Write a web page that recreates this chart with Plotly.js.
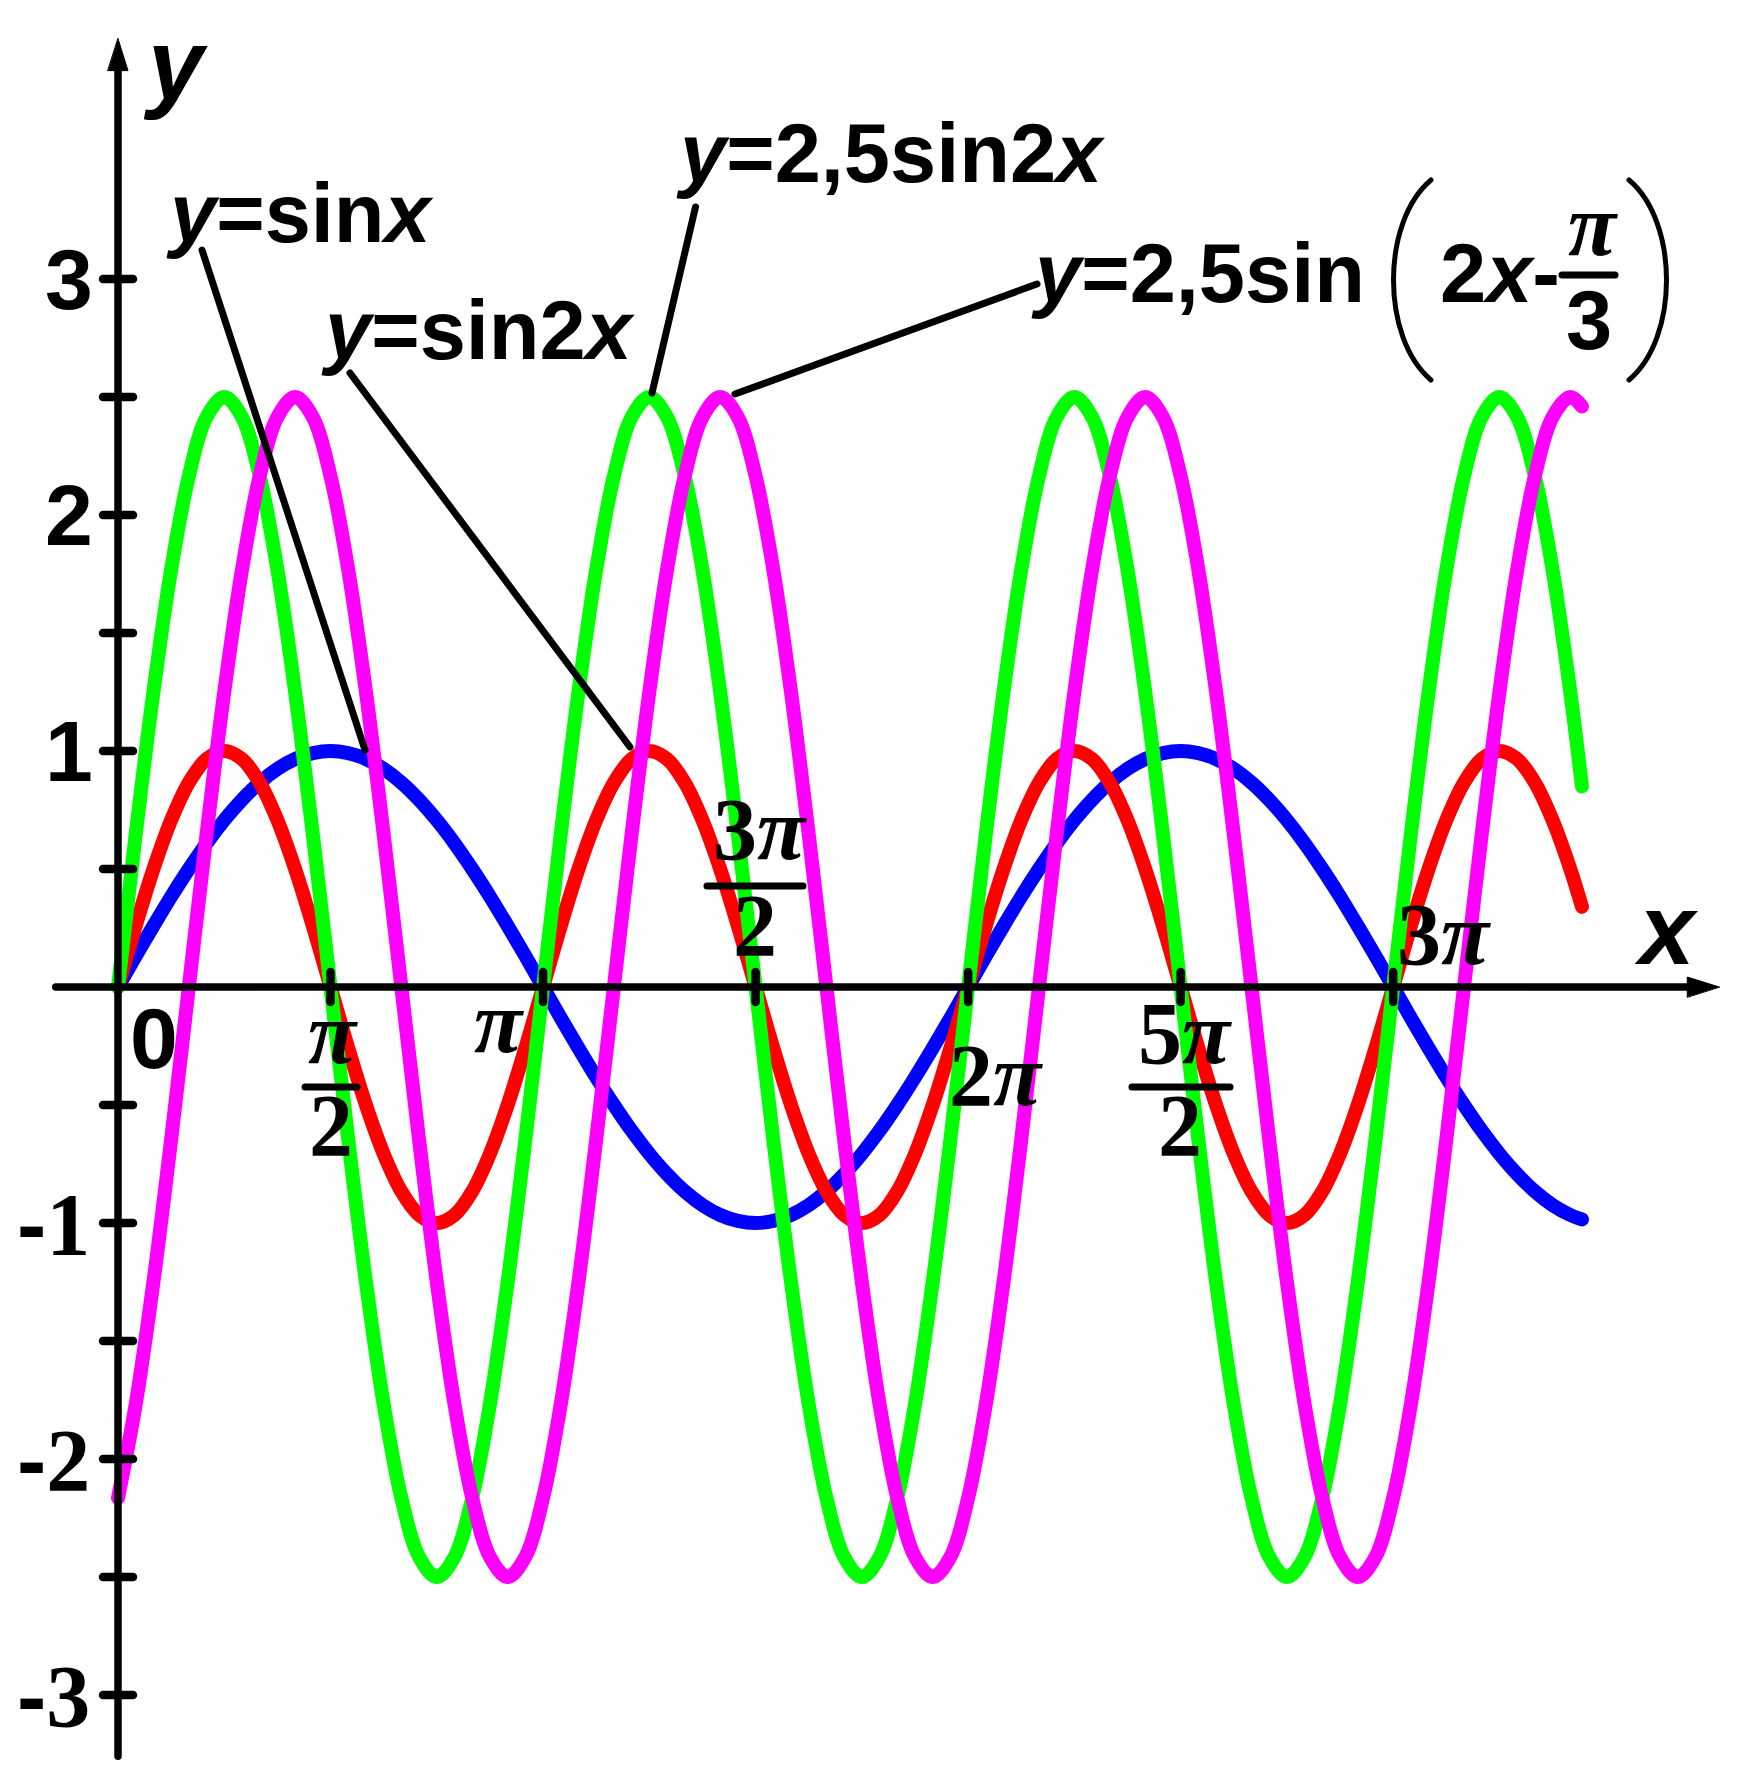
<!DOCTYPE html>
<html>
<head>
<meta charset="utf-8">
<script src="https://cdn.plot.ly/plotly-3.0.1.min.js"></script>
<style>
html,body{margin:0;padding:0;background:#fff;}
#chart{width:1753px;height:1787px;}
.scatterlayer .js-line{stroke-linecap:round;stroke-linejoin:round;}
.shapelayer path{stroke-linecap:round;}
</style>
</head>
<body>
<div id="chart"></div>
<script>
// ---------------- data ----------------
const xValues = [0, 0.1309, 0.2618, 0.3927, 0.5236, 0.6545, 0.7854, 0.9163, 1.0472, 1.1781, 1.309, 1.4399,
  1.5708, 1.7017, 1.8326, 1.9635, 2.0944, 2.2253, 2.3562, 2.4871, 2.618, 2.7489, 2.8798, 3.0107,
  3.1416, 3.2725, 3.4034, 3.5343, 3.6652, 3.7961, 3.927, 4.0579, 4.1888, 4.3197, 4.4506, 4.5815,
  4.7124, 4.8433, 4.9742, 5.1051, 5.236, 5.3669, 5.4978, 5.6287, 5.7596, 5.8905, 6.0214, 6.1523,
  6.2832, 6.4141, 6.545, 6.6759, 6.8068, 6.9377, 7.0686, 7.1995, 7.3304, 7.4613, 7.5922, 7.7231,
  7.854, 7.9849, 8.1158, 8.2467, 8.3776, 8.5085, 8.6394, 8.7703, 8.9012, 9.0321, 9.163, 9.2939,
  9.4248, 9.5557, 9.6866, 9.8175, 9.9484, 10.0793, 10.2102, 10.3411, 10.472, 10.6029, 10.7338, 10.82];

const ySinX = [0, 0.131, 0.259, 0.383, 0.5, 0.609, 0.707, 0.793, 0.866, 0.924, 0.966, 0.991,
  1, 0.991, 0.966, 0.924, 0.866, 0.793, 0.707, 0.609, 0.5, 0.383, 0.259, 0.131,
  0, -0.131, -0.259, -0.383, -0.5, -0.609, -0.707, -0.793, -0.866, -0.924, -0.966, -0.991,
  -1, -0.991, -0.966, -0.924, -0.866, -0.793, -0.707, -0.609, -0.5, -0.383, -0.259, -0.131,
  0, 0.131, 0.259, 0.383, 0.5, 0.609, 0.707, 0.793, 0.866, 0.924, 0.966, 0.991,
  1, 0.991, 0.966, 0.924, 0.866, 0.793, 0.707, 0.609, 0.5, 0.383, 0.259, 0.131,
  0, -0.131, -0.259, -0.383, -0.5, -0.609, -0.707, -0.793, -0.866, -0.924, -0.966, -0.985];

const ySin2X = [0, 0.259, 0.5, 0.707, 0.866, 0.966, 1, 0.966, 0.866, 0.707, 0.5, 0.259,
  0, -0.259, -0.5, -0.707, -0.866, -0.966, -1, -0.966, -0.866, -0.707, -0.5, -0.259,
  0, 0.259, 0.5, 0.707, 0.866, 0.966, 1, 0.966, 0.866, 0.707, 0.5, 0.259,
  0, -0.259, -0.5, -0.707, -0.866, -0.966, -1, -0.966, -0.866, -0.707, -0.5, -0.259,
  0, 0.259, 0.5, 0.707, 0.866, 0.966, 1, 0.966, 0.866, 0.707, 0.5, 0.259,
  0, -0.259, -0.5, -0.707, -0.866, -0.966, -1, -0.966, -0.866, -0.707, -0.5, -0.259,
  0, 0.259, 0.5, 0.707, 0.866, 0.966, 1, 0.966, 0.866, 0.707, 0.5, 0.34];

const y25Sin2X = [0, 0.647, 1.25, 1.768, 2.165, 2.415, 2.5, 2.415, 2.165, 1.768, 1.25, 0.647,
  0, -0.647, -1.25, -1.768, -2.165, -2.415, -2.5, -2.415, -2.165, -1.768, -1.25, -0.647,
  0, 0.647, 1.25, 1.768, 2.165, 2.415, 2.5, 2.415, 2.165, 1.768, 1.25, 0.647,
  0, -0.647, -1.25, -1.768, -2.165, -2.415, -2.5, -2.415, -2.165, -1.768, -1.25, -0.647,
  0, 0.647, 1.25, 1.768, 2.165, 2.415, 2.5, 2.415, 2.165, 1.768, 1.25, 0.647,
  0, -0.647, -1.25, -1.768, -2.165, -2.415, -2.5, -2.415, -2.165, -1.768, -1.25, -0.647,
  0, 0.647, 1.25, 1.768, 2.165, 2.415, 2.5, 2.415, 2.165, 1.768, 1.25, 0.85];

const y25Sin2XShift = [-2.165, -1.768, -1.25, -0.647, 0, 0.647, 1.25, 1.768, 2.165, 2.415, 2.5, 2.415,
  2.165, 1.768, 1.25, 0.647, 0, -0.647, -1.25, -1.768, -2.165, -2.415, -2.5, -2.415,
  -2.165, -1.768, -1.25, -0.647, 0, 0.647, 1.25, 1.768, 2.165, 2.415, 2.5, 2.415,
  2.165, 1.768, 1.25, 0.647, 0, -0.647, -1.25, -1.768, -2.165, -2.415, -2.5, -2.415,
  -2.165, -1.768, -1.25, -0.647, 0, 0.647, 1.25, 1.768, 2.165, 2.415, 2.5, 2.415,
  2.165, 1.768, 1.25, 0.647, 0, -0.647, -1.25, -1.768, -2.165, -2.415, -2.5, -2.415,
  -2.165, -1.768, -1.25, -0.647, 0, 0.647, 1.25, 1.768, 2.165, 2.415, 2.5, 2.46];

const seriesNames = ['y=sinx', 'y=sin2x', 'y=2,5sin2x', 'y=2,5sin(2x-π/3)'];
const seriesColors = ['#0000FF', '#FF0000', '#00FF00', '#FF00FF'];

const xTickVals = [1.5708, 3.1416, 4.7124, 6.2832, 7.854, 9.4248];
const xTickNum = ['<i>π</i>', '<i>π</i>', '3<i>π</i>', '2<i>π</i>', '5<i>π</i>', '3<i>π</i>'];
const xTickDen = ['2', '', '2', '', '2', ''];
const yTickVals = [-3, -2.5, -2, -1.5, -1, -0.5, 0.5, 1, 1.5, 2, 2.5, 3];
const yLabelVals = [-3, -2, -1, 1, 2, 3];
const yLabelText = ['3', '2', '1', '1', '2', '3'];

// ---------------- layout geometry ----------------
const W = 1753, H = 1787;
const X0 = 118, Y0 = 987, SX = 135.3, SY = 236;
const SANS = 'Liberation Sans, Arial, sans-serif';
const SERIF = 'Liberation Serif, Times New Roman, serif';
const px = v => v / W;
const py = v => 1 - v / H;

function txt(text, xpx, basePx, size, family, anchor) {
  return {
    xref: 'paper', yref: 'paper', x: px(xpx), y: py(basePx - 0.34 * size),
    xanchor: anchor || 'center', yanchor: 'middle', text: text, showarrow: false,
    font: {family: family, size: size, color: '#000', weight: 700}
  };
}
function seg(x0, y0, x1, y1, w) {
  return {type: 'line', xref: 'paper', yref: 'paper', x0: px(x0), y0: py(y0), x1: px(x1), y1: py(y1),
    line: {color: '#000', width: w}};
}

// ---------------- traces ----------------
const ySeries = [ySinX, ySin2X, y25Sin2X, y25Sin2XShift];
const traces = ySeries.map((ys, i) => ({
  type: 'scatter', mode: 'lines', x: xValues, y: ys, name: seriesNames[i],
  line: {color: seriesColors[i], width: 14, shape: 'spline', smoothing: 1, simplify: false},
  hoverinfo: 'skip'
}));

// ---------------- shapes ----------------
const shapes = [];
// axes
shapes.push({type: 'line', xref: 'x', yref: 'y', x0: -0.46, x1: 11.7, y0: 0, y1: 0, line: {color: '#000', width: 7.5}});
shapes.push({type: 'line', xref: 'x', yref: 'y', x0: 0, x1: 0, y0: -3.26, y1: 3.92, line: {color: '#000', width: 7.5}});
// arrowheads
shapes.push({type: 'path', xref: 'x', yref: 'y', xsizemode: 'pixel', ysizemode: 'pixel', xanchor: 11.82, yanchor: 0,
  path: 'M2,0 L-30,10 L-30,-10 Z', fillcolor: '#000', line: {color: '#000', width: 1}});
shapes.push({type: 'path', xref: 'x', yref: 'y', xsizemode: 'pixel', ysizemode: 'pixel', xanchor: 0, yanchor: 4.01,
  path: 'M0,2 L10,-30 L-10,-30 Z', fillcolor: '#000', line: {color: '#000', width: 1}});
// ticks
xTickVals.forEach(v => shapes.push({type: 'line', xref: 'x', yref: 'y', ysizemode: 'pixel', yanchor: 0,
  x0: v, x1: v, y0: -15, y1: 15, line: {color: '#000', width: 8.5}}));
yTickVals.forEach(v => shapes.push({type: 'line', xref: 'x', yref: 'y', xsizemode: 'pixel', xanchor: 0,
  x0: -15, x1: 15, y0: v, y1: v, line: {color: '#000', width: 8.5}}));
// fraction bars of tick labels
shapes.push(seg(305, 1087, 357, 1087, 7));
shapes.push(seg(707, 886, 803, 886, 7));
shapes.push(seg(1132, 1087, 1230, 1087, 7));
// leader lines
shapes.push(seg(202, 250, 365, 750, 7));
shapes.push(seg(350, 373, 630, 747, 7));
shapes.push(seg(695.5, 207, 652, 393, 7));
shapes.push(seg(1037, 284, 735, 394, 7));
// formula: fraction bar and parentheses
shapes.push(seg(1562, 275, 1615, 275, 7));
shapes.push({type: 'path', xref: 'paper', yref: 'paper',
  path: `M${px(1431)},${py(180)} C${px(1381)},${py(222)} ${px(1381)},${py(338)} ${px(1431)},${py(380)}`,
  line: {color: '#000', width: 5}});
shapes.push({type: 'path', xref: 'paper', yref: 'paper',
  path: `M${px(1629)},${py(180)} C${px(1679)},${py(222)} ${px(1679)},${py(338)} ${px(1629)},${py(380)}`,
  line: {color: '#000', width: 5}});

// ---------------- annotations ----------------
const ann = [];
// y tick labels
yLabelVals.forEach((v, i) => {
  const neg = v < 0;
  ann.push({
    xref: 'paper', yref: 'y', x: px(neg ? 92 : 95), y: v, xanchor: 'right', yanchor: 'middle', showarrow: false,
    text: neg ? '<span style="font-family:Liberation Sans">-</span>' + yLabelText[i] : yLabelText[i],
    font: {family: neg ? SERIF : SANS, size: neg ? 88 : 86, color: '#000', weight: 700}
  });
});
// x tick labels
ann.push(txt('0', 154, 1067, 86, SANS));
const numPos = [[333, 1063], [499, 1052], [760, 859], [996, 1105], [1185, 1063], [1444, 964]];
const denPos = [[331, 1155], null, [755, 955], null, [1180, 1155], null];
xTickNum.forEach((t, i) => {
  ann.push(txt(t, numPos[i][0], numPos[i][1], 88, SERIF));
  if (xTickDen[i]) ann.push(txt(xTickDen[i], denPos[i][0], denPos[i][1], 88, SERIF));
});
// axis titles
ann.push(txt('<i>y</i>', 141, 98, 100, SANS, 'left'));
ann.push(txt('<i>x</i>', 1632, 963, 100, SANS, 'left'));
// formula labels
ann.push(txt('<i>y</i>=sin<i>x</i>', 164, 242, 83, SANS, 'left'));
ann.push(txt('<i>y</i>=sin2<i>x</i>', 319, 359, 83, SANS, 'left'));
ann.push(txt('<i>y</i>=2,5sin2<i>x</i>', 674, 182, 83, SANS, 'left'));
ann.push(txt('<i>y</i>=2,5sin', 1029, 302, 83, SANS, 'left'));
ann.push(txt('2<i>x</i>-', 1438, 302, 83, SANS, 'left'));
ann.push(txt('<i>π</i>', 1593, 255, 88, SERIF));
ann.push(txt('3', 1589, 349, 83, SANS));

const layout = {
  width: W, height: H,
  margin: {l: 0, r: 0, t: 0, b: 0, pad: 0},
  paper_bgcolor: '#fff', plot_bgcolor: '#fff',
  showlegend: false,
  xaxis: {range: [-X0 / SX, (W - X0) / SX], visible: false, fixedrange: true},
  yaxis: {range: [-(H - Y0) / SY, Y0 / SY], visible: false, fixedrange: true},
  shapes: shapes,
  annotations: ann
};

Plotly.newPlot('chart', traces, layout, {displayModeBar: false, staticPlot: true});
</script>
</body>
</html>
